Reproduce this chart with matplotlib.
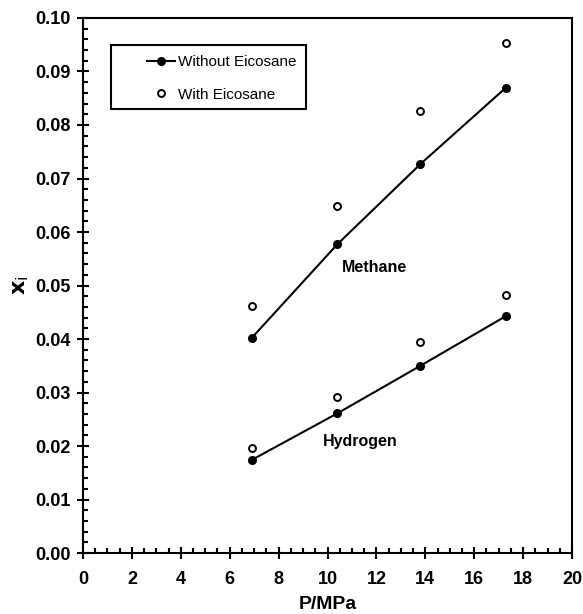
import numpy as np
import matplotlib
matplotlib.use('Agg')
import matplotlib.pyplot as plt
from matplotlib.patches import Rectangle
from matplotlib.ticker import MultipleLocator, FormatStrFormatter

plt.rcParams['font.family'] = ['Liberation Sans', 'DejaVu Sans']

# Pressure (MPa)
pressure = [6.9, 10.4, 13.8, 17.3]

# Methane solubility
methane_without = [0.0402, 0.0577, 0.0727, 0.0870]
methane_with = [0.0462, 0.0649, 0.0827, 0.0954]

# Hydrogen solubility
hydrogen_without = [0.0174, 0.0261, 0.0350, 0.0443]
hydrogen_with = [0.0196, 0.0291, 0.0394, 0.0482]

fig = plt.figure(figsize=(5.83, 6.14), dpi=100)
ax = fig.add_axes([0.1424, 0.0993, 0.8388, 0.8714])

ax.plot(pressure, methane_without, '-o', color='black', lw=1.5,
        ms=5.5, label='Without Eicosane')
ax.plot(pressure, methane_with, 'o', mfc='white', mec='black', mew=1.4,
        ms=5, label='With Eicosane')
ax.plot(pressure, hydrogen_without, '-o', color='black', lw=1.5, ms=5.5)
ax.plot(pressure, hydrogen_with, 'o', mfc='white', mec='black', mew=1.4, ms=5)

ax.text(11.94, 0.0533, 'Methane', fontsize=11.5, fontweight='bold',
        ha='center', va='center')
ax.text(11.33, 0.0208, 'Hydrogen', fontsize=11.5, fontweight='bold',
        ha='center', va='center')

ax.set_xlim(0, 20)
ax.set_ylim(0, 0.10)
ax.xaxis.set_major_locator(MultipleLocator(2))
ax.xaxis.set_minor_locator(MultipleLocator(0.5))
ax.yaxis.set_major_locator(MultipleLocator(0.01))
ax.yaxis.set_minor_locator(MultipleLocator(0.002))
ax.yaxis.set_major_formatter(FormatStrFormatter('%.2f'))

ax.tick_params(which='major', direction='inout', length=8, width=1.5,
               labelsize=13, pad=5)
ax.tick_params(axis='x', which='major', pad=9)
ax.tick_params(which='minor', direction='in', length=3.5, width=1.5)
for lab in ax.get_xticklabels() + ax.get_yticklabels():
    lab.set_fontweight('bold')
for sp in ax.spines.values():
    sp.set_linewidth(1.5)

ax.set_xlabel('P/MPa', fontsize=14, fontweight='bold')
ax.set_ylabel(r'$\mathbf{x}_\mathrm{i}$', fontsize=16)
ax.xaxis.set_label_coords(0.5, -0.080)
ax.yaxis.set_label_coords(-0.106, 0.5)

# legend box drawn separately to get the wide left margin
ax.add_patch(Rectangle((0.057, 0.830), 0.399, 0.1195, transform=ax.transAxes,
                       fill=False, edgecolor='black', lw=1.5, zorder=5))
leg = ax.legend(loc='center left', bbox_to_anchor=(0.130, 0.8870),
                frameon=False, fontsize=11, borderpad=0, borderaxespad=0,
                labelspacing=1.2, handlelength=1.84, handletextpad=0.2)

fig.savefig('out.png', dpi=100)
